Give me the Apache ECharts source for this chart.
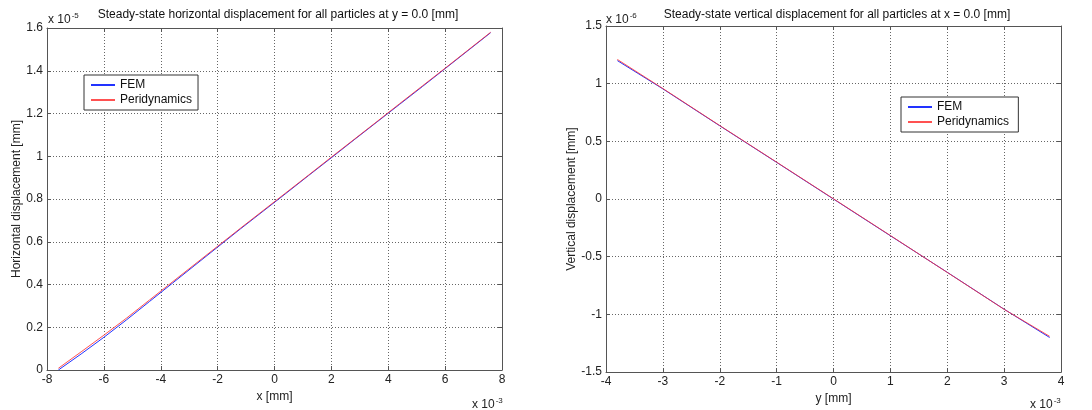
<!DOCTYPE html>
<html>
<head>
<meta charset="utf-8">
<script src="https://cdn.jsdelivr.net/npm/echarts@6/dist/echarts.min.js"></script>
<style>
html,body{margin:0;padding:0;background:#fff;}
#chart{width:1092px;height:410px;}
</style>
</head>
<body>
<div id="chart"></div>
<script>
// Left plot: x in units of 1e-3 mm, displacement in units of 1e-5 mm
const hX = [-7.6, -6.8, -6.0, -5.2, -4.4, -3.6, -2.8, -2.0, -1.2, -0.4, 0.4, 1.2, 2.0, 2.8, 3.6, 4.4, 5.2, 6.0, 6.8, 7.6];
const hFEM = [0.000, 0.075, 0.153, 0.235, 0.320, 0.405, 0.490, 0.575, 0.660, 0.743, 0.826, 0.910, 0.993, 1.077, 1.160, 1.243, 1.326, 1.410, 1.494, 1.578];
const hPD  = [0.008, 0.085, 0.163, 0.243, 0.327, 0.411, 0.495, 0.579, 0.663, 0.746, 0.829, 0.912, 0.996, 1.079, 1.162, 1.246, 1.329, 1.412, 1.496, 1.580];
// Right plot: y in units of 1e-3 mm, displacement in units of 1e-6 mm
const vY = [-3.8, -3.0, -2.0, -1.0, 0.0, 1.0, 2.0, 3.0, 3.8];
const vFEM = [1.20, 0.955, 0.635, 0.318, 0.000, -0.318, -0.635, -0.955, -1.200];
const vPD  = [1.21, 0.958, 0.637, 0.320, 0.002, -0.316, -0.636, -0.956, -1.190];
const seriesNames = ['FEM', 'Peridynamics'];
const titles = ['Steady-state horizontal displacement for all particles at y = 0.0 [mm]',
                'Steady-state vertical displacement for all particles at x = 0.0 [mm]'];
const axisNames = {x1: 'x [mm]', y1: 'Horizontal displacement [mm]', x2: 'y [mm]', y2: 'Vertical displacement [mm]'};

const FONT = 'Liberation Sans, Arial, sans-serif';
const pair = (xs, ys) => xs.map((x, i) => [x, ys[i]]);

function mainX(gi, min, max, interval, name) {
  return {
    type: 'value', gridIndex: gi, min, max, interval, position: 'bottom',
    name, nameLocation: 'middle', nameGap: 20,
    nameTextStyle: {fontFamily: FONT, fontSize: 12, color: '#222'},
    axisLine: {show: true, onZero: false, lineStyle: {color: '#555', width: 1}},
    axisTick: {show: true, inside: true, length: 4, lineStyle: {color: '#555'}},
    axisLabel: {fontFamily: FONT, fontSize: 12, color: '#222', margin: 4},
    splitLine: {show: true, lineStyle: {type: [1, 2], color: '#666', width: 1}}
  };
}
function mainY(gi, min, max, interval, name, gap) {
  return {
    type: 'value', gridIndex: gi, min, max, interval, position: 'left',
    name, nameLocation: 'middle', nameGap: gap,
    nameTextStyle: {fontFamily: FONT, fontSize: 12, color: '#222'},
    axisLine: {show: true, onZero: false, lineStyle: {color: '#555', width: 1}},
    axisTick: {show: true, inside: true, length: 4, lineStyle: {color: '#555'}},
    axisLabel: {fontFamily: FONT, fontSize: 12, color: '#222', margin: 4},
    splitLine: {show: true, lineStyle: {type: [1, 2], color: '#666', width: 1}}
  };
}
function mirror(gi, min, max, interval, pos) {
  return {
    type: 'value', gridIndex: gi, min, max, interval, position: pos,
    axisLine: {show: true, onZero: false, lineStyle: {color: '#555', width: 1}},
    axisTick: {show: true, inside: true, length: 4, lineStyle: {color: '#555'}},
    axisLabel: {show: false}, splitLine: {show: false}
  };
}

function expText(x, y, exp) {
  return {
    type: 'text', left: x, top: y,
    style: {
      text: '{b|x 10}{s|' + exp + '}',
      rich: {
        b: {fontFamily: FONT, fontSize: 12, fill: '#222', verticalAlign: 'bottom'},
        s: {fontFamily: FONT, fontSize: 8, fill: '#222', verticalAlign: 'top', padding: [0, 0, 6, 1]}
      }
    }
  };
}

const legendStyle = {
  orient: 'vertical', backgroundColor: '#fff', borderColor: '#333', borderWidth: 1, borderRadius: 0,
  padding: [4, 6], itemGap: 3, itemWidth: 24, itemHeight: 12,
  itemStyle: {opacity: 0},
  textStyle: {fontFamily: FONT, fontSize: 12, color: '#111'}
};

const option = {
  animation: false,
  backgroundColor: '#fff',
  title: [
    {text: titles[0], left: 273, top: 4, textAlign: 'center', textStyle: {fontFamily: FONT, fontSize: 12, fontWeight: 'normal', color: '#111'}},
    {text: titles[1], left: 832, top: 4, textAlign: 'center', textStyle: {fontFamily: FONT, fontSize: 12, fontWeight: 'normal', color: '#111'}}
  ],
  grid: [
    {left: 47, right: 590, top: 28, bottom: 40, show: false},
    {left: 606, right: 31, top: 26, bottom: 36, show: false}
  ],
  xAxis: [
    mainX(0, -8, 8, 2, axisNames.x1),
    mirror(0, -8, 8, 2, 'top'),
    mainX(1, -4, 4, 1, axisNames.x2),
    mirror(1, -4, 4, 1, 'top')
  ],
  yAxis: [
    mainY(0, 0, 1.6, 0.2, axisNames.y1, 24),
    mirror(0, 0, 1.6, 0.2, 'right'),
    mainY(1, -1.5, 1.5, 0.5, axisNames.y2, 25),
    mirror(1, -1.5, 1.5, 0.5, 'right')
  ],
  legend: [
    Object.assign({left: 84, top: 75, data: [{name: seriesNames[0]}, {name: seriesNames[1]}]}, legendStyle, {id: 'l1'}),
    Object.assign({left: 901, top: 97, data: [{name: seriesNames[0] + ' '}, {name: seriesNames[1] + ' '}]}, legendStyle, {id: 'l2'})
  ],
  series: [
    {name: seriesNames[0], type: 'line', xAxisIndex: 0, yAxisIndex: 0, data: pair(hX, hFEM), symbol: 'none', lineStyle: {color: '#2233ff', width: 1}, itemStyle: {color: '#2233ff'}},
    {name: seriesNames[1], type: 'line', xAxisIndex: 0, yAxisIndex: 0, data: pair(hX, hPD), symbol: 'none', lineStyle: {color: '#ff3333', width: 1, opacity: 0.85}, itemStyle: {color: '#ff3333'}},
    {name: seriesNames[0] + ' ', type: 'line', xAxisIndex: 2, yAxisIndex: 2, data: pair(vY, vFEM), symbol: 'none', lineStyle: {color: '#2233ff', width: 1}, itemStyle: {color: '#2233ff'}},
    {name: seriesNames[1] + ' ', type: 'line', xAxisIndex: 2, yAxisIndex: 2, data: pair(vY, vPD), symbol: 'none', lineStyle: {color: '#ff3333', width: 1, opacity: 0.85}, itemStyle: {color: '#ff3333'}}
  ],
  graphic: [
    expText(48, 12, '-5'),
    expText(472, 397, '-3'),
    expText(606, 12, '-6'),
    expText(1030, 397, '-3')
  ]
};

const chart = echarts.init(document.getElementById('chart'), null, {renderer: 'canvas'});
chart.setOption(option);
</script>
</body>
</html>
